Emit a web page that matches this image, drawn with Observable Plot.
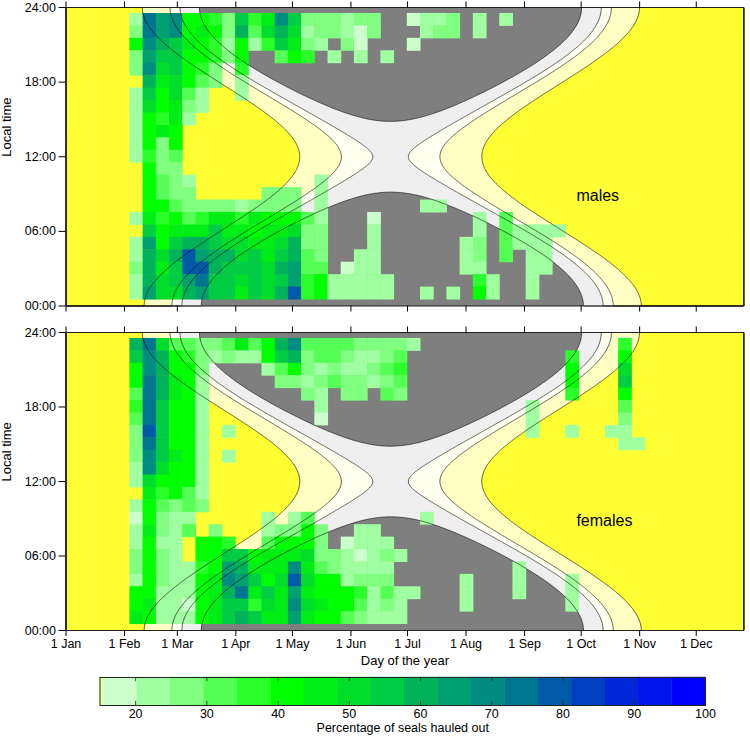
<!DOCTYPE html>
<html><head><meta charset="utf-8">
<script src="https://cdn.jsdelivr.net/npm/d3@7"></script>
<script src="https://cdn.jsdelivr.net/npm/@observablehq/plot@0.6"></script>
<style>
body{margin:0;background:#fff;}
#wrap{position:relative;width:750px;height:737px;font-family:"Liberation Sans",Arial,sans-serif;}
#wrap > div{position:absolute;left:0;}
</style></head><body><div id="wrap"></div>
<script>
// ---------- data ----------
const monthStarts = [1, 32, 60, 91, 121, 152, 182, 213, 244, 274, 305, 335];
const monthLabels = ["1 Jan","1 Feb","1 Mar","1 Apr","1 May","1 Jun","1 Jul","1 Aug","1 Sep","1 Oct","1 Nov","1 Dec"];
const hourTicks = [0, 6, 12, 18, 24];
const hourLabels = ["00:00","06:00","12:00","18:00","24:00"];
const latitude = -74.85;                       // site latitude (deg)
const sunLimits = [-12, -8, -6, -0.833];       // solar elevation limits (deg)
const bandColors = ["#efefef", "#fffff0", "#ffffc4", "#ffff33"];
const nightColor = "#7f7f7f";
const firstWeekDay = 35;                       // first weekly bin (day of year)
const weekLength = 7;
const levelChars = "0123456789abcdefgh";
const colorStart = 15.53, colorStep = 4.693;   // colour bins of the legend
const palette = ["#ccffcc","#a0ffa0","#80ff80","#55ff55","#2bff2b","#00ff00","#00ee15","#00dd2b","#00cc44","#00b35a","#00a070","#008c80","#007590","#005aa8","#0040c0","#0028d8","#0014ec","#0000ff"];
const legendTicks = [20, 30, 40, 50, 60, 70, 80, 90, 100];

// weekly x hourly haul-out levels; row 0 = 23:00 ... row 22 = 01:00; one char per week
const malesRows = [
  "1cab5542846b8222122..0112.1.1",
  "2cab565293797122102...122.1",
  "5b9865415148621.20...0",
  "2a8855425..354.1.1.1",
  "2b78542.4",
  ".967532.1",
  "185731..1",
  "175621",
  "15461",
  "1565",
  "1525",
  "1423",
  ".522",
  ".5321.........1",
  ".5322.....222.1",
  ".553222212222.1.......11",
  "164534664655531...0.......1.3",
  ".85666866566722...1.......1.31111",
  "1a5899877667922...1......12.3111",
  "1979da997868932..11......12.3.11",
  "2968dd988879a33.011......11...11",
  "1978ac887878a4511111......41..1",
  "1a779a886879d4511111..1.1.51..1"
];
const femalesRows = [
  "9c73322363" + "59b3333222" + "21" + "..............." + "4",
  "8b95421211" + "5892332112" + "3" + "............" + "4" + "..." + "5",
  "5b9552...." + "1352121123" + "4" + "............" + "5" + "..." + "7",
  "5c9651....." + "2212322123" + "............" + "5" + "..." + "8",
  "3c9651" + "......." + "21.22.32" + "............" + "4" + "..." + "5",
  "4c8551" + "........" + "1" + "..............." + "1" + "......" + "3",
  "3c8551" + "........" + "0" + "..............." + "1" + "......" + "2",
  "2d8551.1" + "......................" + "1" + ".." + "1" + ".." + "11",
  "2c8551" + "..............................." + "11",
  "2b8651.1",
  "1b7551",
  "175551",
  ".64531",
  "153232",
  "05211" + "....." + "1.13" + "........" + "1",
  "16213.2...12252..11",
  "1511.554..35552.0111",
  "2521.5588566672210121",
  "25211" + "45a9" + "666b" + "632" + "1111" + "........." + "1",
  "15211" + "56ba" + "857d" + "755" + "1222" + "....." + "1" + "..." + "1" + "..." + "1",
  "55111" + "569c" + "686a" + "655" + "5413" + "11" + "..." + "1" + "..." + "1" + "..." + "1",
  "56110" + "5688" + "476b" + "765" + "5312" + "1" + "...." + "1" + "......." + "1",
  "65111" + "5689" + "866a" + "655" + "3211" + "1"
];

// ---------- helpers ----------
function solarElevation(doy, hour) {
  const g = 2 * Math.PI / 365 * (doy - 1 + (hour - 12) / 24);
  const decl = 0.006918 - 0.399912 * Math.cos(g) + 0.070257 * Math.sin(g)
    - 0.006758 * Math.cos(2 * g) + 0.000907 * Math.sin(2 * g)
    - 0.002697 * Math.cos(3 * g) + 0.00148 * Math.sin(3 * g);
  const ha = (hour - 12) * Math.PI / 12;
  const lat = latitude * Math.PI / 180;
  const s = Math.sin(lat) * Math.sin(decl) + Math.cos(lat) * Math.cos(decl) * Math.cos(ha);
  return Math.asin(s) * 180 / Math.PI;
}
function decode(rows) {
  const out = [];
  rows.forEach((row, r) => {
    const hour = 23 - r;
    [...row].forEach((ch, k) => {
      const i = levelChars.indexOf(ch);
      if (i < 0) return;
      const start = firstWeekDay + weekLength * k;
      out.push({x1: start, x2: start + weekLength, y1: hour - 0.5, y2: hour + 0.5,
                value: colorStart + colorStep * (i + 0.5)});
    });
  });
  return out;
}
function colorOf(v) {
  const i = Math.max(0, Math.min(palette.length - 1, Math.floor((v - colorStart) / colorStep)));
  return palette[i];
}
const FONT = "Liberation Sans, Arial, sans-serif";
const XDOM = [1, 360.2];
const contourBase = {value: solarElevation, x1: XDOM[0], x2: XDOM[1], y1: 0, y2: 24, pixelSize: 1};

function panel(rows, label, bottomLabels) {
  const cells = decode(rows);
  const marks = [
    Plot.frame({fill: nightColor}),
    ...bandColors.map((c, i) => Plot.contour({...contourBase, thresholds: [sunLimits[i]], fill: c, stroke: "none"})),
    Plot.rect(cells, {x1: "x1", x2: "x2", y1: "y1", y2: "y2", fill: d => colorOf(d.value), inset: -0.25}),
    Plot.contour({...contourBase, thresholds: sunLimits, fill: "none", stroke: "#000", strokeWidth: 0.6}),
    Plot.frame({stroke: "#222", strokeWidth: 1}),
    Plot.text([label], {x: 271.5, y: 8.85, text: d => d, textAnchor: "start", fontSize: 16}),
    Plot.axisY(hourTicks, {tickFormat: d => hourLabels[hourTicks.indexOf(d)], tickSize: 7, tickPadding: 3, fontSize: 12.5, label: null}),
    Plot.axisX(monthStarts, {anchor: "top", tickSize: 6.5, tickFormat: () => "", label: null}),
    Plot.axisX(monthStarts, {anchor: "bottom", tickSize: 6, tickPadding: 3,
      tickFormat: bottomLabels ? (d => monthLabels[monthStarts.indexOf(d)]) : () => "", fontSize: 12.5, label: null}),
    Plot.text(["Local time"], {frameAnchor: "left", dx: -59, rotate: -90, text: d => d, fontSize: 13})
  ];
  if (bottomLabels) marks.push(Plot.text(["Day of the year"], {frameAnchor: "bottom", dy: 34, text: d => d, fontSize: 13}));
  return Plot.plot({
    width: 750, height: bottomLabels ? 345 : 318,
    marginLeft: 65.5, marginRight: 6.7, marginTop: 7, marginBottom: bottomLabels ? 40 : 12.5,
    x: {domain: XDOM, label: null}, y: {domain: [0, 24], label: null},
    color: {type: "identity"},
    style: {fontFamily: FONT, fontSize: "12.5px", color: "#000", background: "transparent"},
    marks
  });
}

function colorbar() {
  const segs = [{x1: 15, x2: colorStart, fill: "#eeffaa"}].concat(palette.map((c, i) => ({
    x1: colorStart + colorStep * i, x2: Math.min(100, colorStart + colorStep * (i + 1)), fill: c})));
  return Plot.plot({
    width: 750, height: 67, marginLeft: 99.5, marginRight: 45, marginTop: 7, marginBottom: 32,
    x: {domain: [15, 100], label: null}, y: {domain: [0, 1], axis: null},
    color: {type: "identity"},
    style: {fontFamily: FONT, fontSize: "12.5px", color: "#000", background: "transparent"},
    marks: [
      Plot.rect(segs, {x1: "x1", x2: "x2", y1: 0, y2: 1, fill: "fill", inset: -0.2}),
      Plot.ruleX(legendTicks, {y1: 1, y2: 0.85, stroke: "#222", strokeWidth: 0.8}),
      Plot.ruleX(legendTicks, {y1: 0, y2: 0.15, stroke: "#222", strokeWidth: 0.8}),
      Plot.frame({stroke: "#222"}),
      Plot.axisX(legendTicks, {tickSize: 0, tickPadding: 4, fontSize: 12.5, label: null}),
      Plot.text(["Percentage of seals hauled out"], {frameAnchor: "bottom", dy: 26, text: d => d, fontSize: 12.5})
    ]
  });
}

const wrap = document.getElementById("wrap");
function place(node, top) { const d = document.createElement("div"); d.style.top = top + "px"; d.appendChild(node); wrap.appendChild(d); }
place(panel(malesRows, "males", false), 0);
place(panel(femalesRows, "females", true), 325);
place(colorbar(), 670);
</script></body></html>
